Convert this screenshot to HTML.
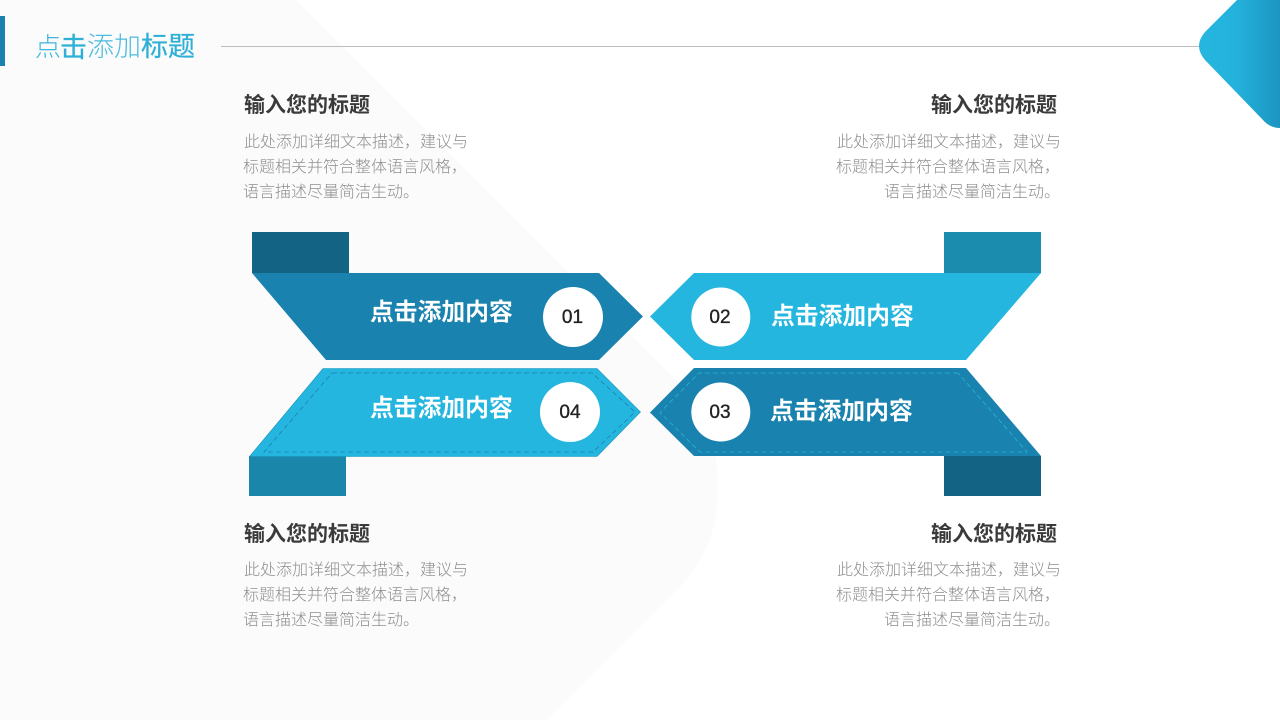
<!DOCTYPE html>
<html><head><meta charset="utf-8"><style>
html,body{margin:0;padding:0;background:#fff}
svg{display:block}
text{font-family:"Liberation Sans","Noto Sans CJK SC",sans-serif}
.h{font-size:21px;font-weight:700;fill:#3a3a3a}
.d{font-size:16px;fill:#8e8e8e;font-weight:300}
.w{font-size:23.800px;font-weight:700;fill:#fff}
.n{font-size:19px;font-weight:400;fill:#222;stroke:#222;stroke-width:.35;text-anchor:middle}
</style></head><body>
<svg width="1280" height="720" viewBox="0 0 1280 720" xmlns="http://www.w3.org/2000/svg">
<defs><linearGradient id="g" x1="0" x2="1" y1="0" y2="0"><stop offset="0" stop-color="#25b6df"/><stop offset=".45" stop-color="#24b2dc"/><stop offset="1" stop-color="#1b95c0"/></linearGradient></defs>
<rect width="1280" height="720" fill="#fff"/>
<path d="M0 0H296L690 394Q718 425 718 490Q718 545 680 587L547 720H0Z" fill="#fbfbfc"/>
<rect x="0" y="16" width="5" height="50" fill="#1a82ae"/>
<text x="35" y="56" font-size="26" fill="#3cb6dc" style="font-weight:300">点</text>
<text x="60" y="57" font-size="27" fill="#2fb0d6" font-weight="400" stroke="#2fb0d6" stroke-width=".3">击</text>
<text x="87" y="56" font-size="27" fill="#4cbcdd" style="font-weight:300">添加</text>
<text x="141" y="56" font-size="27" fill="#2fb0d6" font-weight="400" stroke="#2fb0d6" stroke-width=".25">标题</text>
<rect x="221" y="46" width="980" height="1" fill="#bdbdbd"/>
<path d="M1280 0H1237L1205 32Q1193 46 1205 60L1263 120Q1270 128 1280 128Z" fill="url(#g)"/>

<text class="h" x="244" y="112">输入您的标题</text>
<text class="d" x="244" y="147">此处添加详细文本描述，建议与</text>
<text class="d" x="243" y="172">标题相关并符合整体语言风格，</text>
<text class="d" x="243" y="197">语言描述尽量简洁生动。</text>

<text class="h" x="931" y="112">输入您的标题</text>
<text class="d" x="837" y="147">此处添加详细文本描述，建议与</text>
<text class="d" x="836" y="172">标题相关并符合整体语言风格，</text>
<text class="d" x="884" y="197">语言描述尽量简洁生动。</text>

<text class="h" x="244" y="541">输入您的标题</text>
<text class="d" x="244" y="575">此处添加详细文本描述，建议与</text>
<text class="d" x="243" y="600">标题相关并符合整体语言风格，</text>
<text class="d" x="243" y="625">语言描述尽量简洁生动。</text>

<text class="h" x="931" y="541">输入您的标题</text>
<text class="d" x="837" y="575">此处添加详细文本描述，建议与</text>
<text class="d" x="836" y="600">标题相关并符合整体语言风格，</text>
<text class="d" x="884" y="625">语言描述尽量简洁生动。</text>

<rect x="252" y="232" width="97" height="41" fill="#136384"/>
<rect x="944" y="232" width="97" height="41" fill="#1b8bae"/>
<rect x="249" y="456" width="97" height="40" fill="#1a86a9"/>
<rect x="944" y="456" width="97" height="40" fill="#136384"/>

<polygon points="252,273 599,273 643,316.500 599,360 326,360" fill="#1a82ae"/>
<polygon points="1041,273 694,273 650,316.500 694,360 966,360" fill="#25b6df"/>
<polygon points="323,368.500 597,368.500 640.500,412 597,456.500 249.500,456.500" fill="#25b6df" stroke="#1a8fba" stroke-width=".6"/>
<polygon points="332,373 592,373 635,412 593,452 264,452" fill="none" stroke="#1a82ae" stroke-width=".8" stroke-dasharray="5 3"/>
<polygon points="966,368 694,368 650,412.500 694,456 1041,456" fill="#1a82ae"/>
<polygon points="958,373 699,373 660,412.500 700,452 1027,452" fill="none" stroke="#25b6df" stroke-width=".8" stroke-dasharray="5 3"/>

<circle cx="573" cy="317" r="30" fill="#fff"/>
<circle cx="720.800" cy="317" r="29.500" fill="#fff"/>
<circle cx="570" cy="412" r="30" fill="#fff"/>
<circle cx="720.800" cy="412" r="29.500" fill="#fff"/>
<text class="n" x="572.500" y="323">01</text>
<text class="n" x="720" y="323">02</text>
<text class="n" x="570" y="418">04</text>
<text class="n" x="720" y="418">03</text>

<text class="w" x="370" y="320">点击添加内容</text>
<text class="w" x="771" y="324">点击添加内容</text>
<text class="w" x="370" y="416">点击添加内容</text>
<text class="w" x="770" y="419">点击添加内容</text>
</svg>
</body></html>
